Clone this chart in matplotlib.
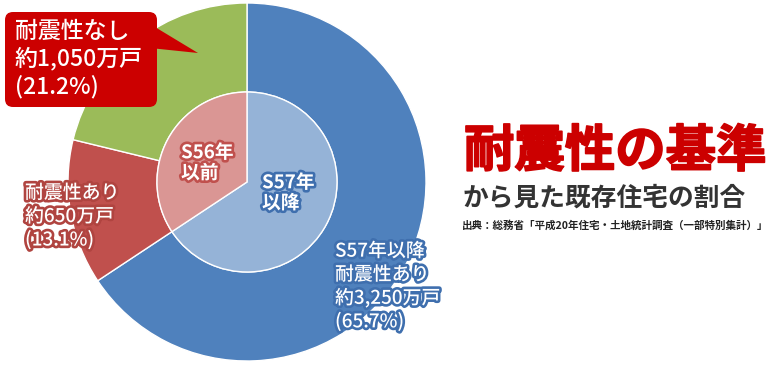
import matplotlib
matplotlib.use("Agg")
import matplotlib.pyplot as plt
import matplotlib.patheffects as pe
from matplotlib.patches import FancyBboxPatch, Polygon

plt.rcParams['font.family'] = ['Noto Sans CJK JP', 'DejaVu Sans']

# data
outer_names = ['S57年以降\n耐震性あり', '耐震性あり', '耐震性なし']
outer_share = [65.7, 13.1, 21.2]
outer_count = ['3,250', '650', '1,050']
outer_colors = ['#4F81BD', '#C0504D', '#9BBB59']

inner_names = ['S57年\n以降', 'S56年\n以前']
inner_share = [65.7, 34.3]
inner_colors = ['#95B3D7', '#DA9694']

W, H = 775, 368
fig = plt.figure(figsize=(W / 100, H / 100), dpi=100)
ax = fig.add_axes([0, 0, 1, 1])

cx, cy = 247, H - 182
R_out, R_in = 179, 90

ax.pie(outer_share, colors=outer_colors, startangle=90, counterclock=False,
       radius=R_out, center=(cx, cy),
       wedgeprops=dict(width=R_out - R_in, edgecolor='white', linewidth=1))
ax.pie(inner_share, colors=inner_colors, startangle=90, counterclock=False,
       radius=R_in, center=(cx, cy),
       wedgeprops=dict(edgecolor='white', linewidth=1))

ax.set_xlim(0, W)
ax.set_ylim(0, H)
ax.set_aspect('auto')
ax.axis('off')

def lbl(i):
    return f'{outer_names[i]}\n約{outer_count[i]}万戸\n({outer_share[i]}%)'

# outer labels (white text, coloured outline)
ax.text(335, H - 286, lbl(0), color='white', fontsize=13.6, ha='left', va='center',
        linespacing=1.22, fontweight='medium',
        path_effects=[pe.withStroke(linewidth=3.8, foreground='#3F6FAE')])
ax.text(25, H - 216, lbl(1), color='white', fontsize=13.6, ha='left', va='center',
        linespacing=1.22, fontweight='medium',
        path_effects=[pe.withStroke(linewidth=3.8, foreground='#B04440')])

# callout for green slice
box = FancyBboxPatch((5, H - 107), 152, 95, boxstyle='round,pad=0,rounding_size=8',
                     facecolor='#CC0000', edgecolor='none', zorder=5)
ax.add_patch(box)
ax.add_patch(Polygon([(150, H - 24), (198, H - 53), (150, H - 48)], closed=True,
                     facecolor='#CC0000', edgecolor='none', zorder=5))
ax.text(15, H - 59, lbl(2), color='white', fontsize=16.5, ha='left', va='center',
        linespacing=1.2, fontweight='medium', zorder=6)

# inner labels
ax.text(181, H - 163, inner_names[1], color='white', fontsize=13.5, fontweight='bold',
        ha='left', va='center', linespacing=1.1,
        path_effects=[pe.withStroke(linewidth=3.8, foreground='#C0504D')])
ax.text(262, H - 193, inner_names[0], color='white', fontsize=13.5, fontweight='bold',
        ha='left', va='center', linespacing=1.1,
        path_effects=[pe.withStroke(linewidth=3.8, foreground='#3F6FAE')])

# title block
ax.text(464, H - 152, '耐震性の基準', color='#CC0000', fontsize=36.3, fontweight='bold',
        ha='left', va='center',
        path_effects=[pe.withStroke(linewidth=1.2, foreground='#CC0000')])
ax.text(463, H - 198, 'から見た既存住宅の割合', color='#333333', fontsize=18.5,
        fontweight='bold', ha='left', va='center')
ax.text(462, H - 225, '出典：総務省「平成20年住宅・土地統計調査（一部特別集計）」',
        color='#222222', fontsize=7.6, fontweight='bold', ha='left', va='center')

fig.savefig('out.png', dpi=100)
